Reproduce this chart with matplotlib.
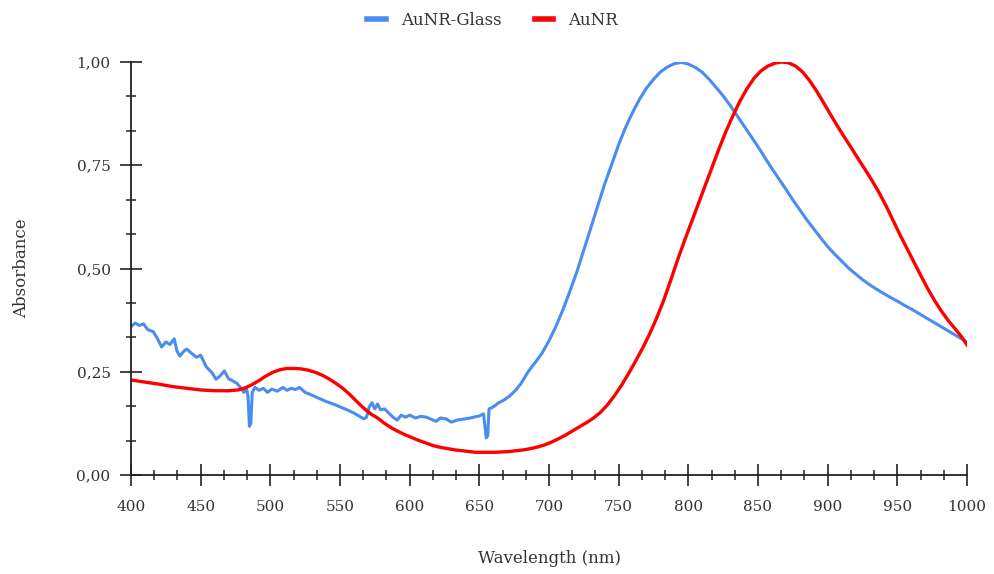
import matplotlib
matplotlib.use("Agg")
import matplotlib.pyplot as plt
from matplotlib.ticker import MultipleLocator, FuncFormatter

glass_wl = [400, 403, 406, 409, 412, 416, 419, 422, 425, 428, 431, 433, 435, 438, 440, 443, 447, 450,
            454, 458, 461, 464, 467, 470, 473, 476, 479, 481, 483, 484, 485, 486, 487, 489, 492, 495,
            498, 501, 505, 509, 512, 515, 518, 521, 525, 528, 532, 536, 540, 545, 550, 555, 560, 564,
            567, 569, 571, 573, 575, 577, 579, 582, 585, 588, 591, 594, 597, 600, 604, 608, 612, 616,
            619, 622, 626, 630, 634, 638, 642, 646, 650, 653, 655, 656, 657, 660, 664, 668, 672, 676,
            680, 685, 690, 695, 700, 705, 710, 715, 720, 725, 730, 735, 740, 745, 750, 755, 760, 765,
            770, 775, 780, 785, 790, 795, 800, 805, 810, 815, 820, 825, 830, 835, 840, 845, 850, 855,
            860, 865, 870, 875, 880, 885, 890, 895, 900, 905, 910, 915, 920, 925, 930, 935, 940, 945,
            950, 955, 960, 965, 970, 975, 980, 985, 990, 995, 1000]
glass_abs = [0.359, 0.368, 0.362, 0.366, 0.352, 0.347, 0.330, 0.310, 0.322, 0.316, 0.330, 0.300, 0.288,
             0.300, 0.305, 0.296, 0.285, 0.290, 0.262, 0.248, 0.232, 0.240, 0.252, 0.233, 0.228, 0.222,
             0.210, 0.200, 0.208, 0.190, 0.118, 0.125, 0.200, 0.212, 0.205, 0.210, 0.200, 0.208, 0.203,
             0.212, 0.205, 0.210, 0.207, 0.212, 0.200, 0.196, 0.190, 0.184, 0.178, 0.172, 0.165, 0.158,
             0.150, 0.142, 0.136, 0.140, 0.165, 0.175, 0.160, 0.172, 0.158, 0.160, 0.150, 0.140, 0.133,
             0.145, 0.140, 0.145, 0.138, 0.142, 0.140, 0.134, 0.130, 0.138, 0.136, 0.128, 0.133, 0.135,
             0.137, 0.140, 0.143, 0.148, 0.090, 0.095, 0.160, 0.165, 0.175, 0.182, 0.192, 0.205, 0.222,
             0.250, 0.272, 0.295, 0.325, 0.360, 0.400, 0.445, 0.492, 0.545, 0.598, 0.652, 0.705, 0.752,
             0.800, 0.842, 0.878, 0.910, 0.937, 0.958, 0.976, 0.988, 0.996, 0.999, 0.995, 0.987, 0.975,
             0.958, 0.938, 0.918, 0.895, 0.870, 0.845, 0.820, 0.795, 0.768, 0.742, 0.717, 0.692, 0.666,
             0.642, 0.618, 0.596, 0.574, 0.553, 0.535, 0.518, 0.501, 0.487, 0.473, 0.461, 0.450, 0.440,
             0.430, 0.421, 0.411, 0.402, 0.392, 0.382, 0.372, 0.362, 0.352, 0.342, 0.332, 0.322]

aunr_wl = [400, 410, 420, 430, 440, 450, 460, 470, 477, 482, 487, 492, 497, 502, 507, 512, 517, 522,
           527, 532, 537, 542, 547, 552, 557, 562, 567, 572, 577, 582, 587, 592, 597, 602, 607, 612,
           617, 622, 627, 632, 637, 642, 647, 652, 657, 662, 667, 672, 677, 682, 687, 692, 697, 702,
           707, 712, 717, 722, 727, 732, 737, 742, 747, 752, 757, 762, 767, 772, 777, 782, 787, 792,
           797, 802, 807, 812, 817, 822, 827, 832, 837, 842, 847, 852, 857, 862, 867, 872, 877, 882,
           887, 892, 897, 902, 907, 912, 917, 922, 927, 932, 937, 942, 947, 952, 957, 962, 967, 972,
           977, 982, 987, 992, 996, 1000]
aunr_abs = [0.230, 0.225, 0.220, 0.214, 0.210, 0.206, 0.204, 0.204, 0.206, 0.211, 0.219, 0.229, 0.240,
            0.249, 0.255, 0.258, 0.258, 0.257, 0.254, 0.249, 0.242, 0.233, 0.222, 0.210, 0.195, 0.178,
            0.162, 0.148, 0.138, 0.125, 0.114, 0.105, 0.097, 0.090, 0.083, 0.077, 0.071, 0.067, 0.064,
            0.061, 0.059, 0.057, 0.055, 0.055, 0.055, 0.055, 0.056, 0.057, 0.059, 0.061, 0.064, 0.068,
            0.073, 0.080, 0.088, 0.097, 0.107, 0.117, 0.127, 0.138, 0.152, 0.170, 0.192, 0.217, 0.245,
            0.275, 0.306, 0.340, 0.378, 0.420, 0.468, 0.518, 0.565, 0.610, 0.655, 0.700, 0.745, 0.790,
            0.832, 0.870, 0.905, 0.935, 0.960, 0.978, 0.990, 0.997, 1.000, 0.998, 0.990, 0.976, 0.955,
            0.930, 0.902, 0.873, 0.845, 0.818, 0.792, 0.765, 0.739, 0.712, 0.683, 0.651, 0.616, 0.581,
            0.548, 0.515, 0.482, 0.450, 0.421, 0.395, 0.372, 0.352, 0.335, 0.315]

series_names = ["AuNR-Glass", "AuNR"]
series_colors = ["#4a8cf0", "#ff0000"]

plt.rcParams['font.family'] = ['DejaVu Serif']

fig = plt.figure(figsize=(9.95, 5.74), dpi=100)
ax = fig.add_axes([131/995, 1 - 475/574, (967-131)/995, (475-62)/574])

ax.plot(glass_wl, glass_abs, color=series_colors[0], lw=2.2, label=series_names[0], solid_joinstyle='round')
ax.plot(aunr_wl, aunr_abs, color=series_colors[1], lw=2.4, label=series_names[1], solid_joinstyle='round')

ax.set_xlim(400, 1000)
ax.set_ylim(0, 1.0)
ax.xaxis.set_major_locator(MultipleLocator(50))
ax.xaxis.set_minor_locator(MultipleLocator(50/3))
ax.yaxis.set_major_locator(MultipleLocator(0.25))
ax.yaxis.set_minor_locator(MultipleLocator(0.25/3))
ax.yaxis.set_major_formatter(FuncFormatter(lambda v, p: f"{v:.2f}".replace('.', ',')))

for s in ['top', 'right']:
    ax.spines[s].set_visible(False)
for s in ['left', 'bottom']:
    ax.spines[s].set_linewidth(1.3)
    ax.spines[s].set_color('#222222')

ax.tick_params(which='major', direction='inout', length=15.5, width=1.2, color='#222222',
               labelsize=11, labelcolor='#333333')
ax.tick_params(which='minor', direction='inout', length=7.5, width=1.1, color='#222222')
ax.tick_params(axis='y', which='major', pad=7)
ax.tick_params(axis='x', which='major', pad=10)

ax.set_xlabel("Wavelength (nm)", fontsize=12, color='#333333', labelpad=26)
ax.set_ylabel("Absorbance", fontsize=12, color='#333333', labelpad=33)

fig.legend(loc='upper center', bbox_to_anchor=(0.495, 1.005), ncol=2, frameon=False,
           fontsize=12, handlelength=1.1, handletextpad=0.9, columnspacing=2.0,
           labelcolor='#333333')
for lh in fig.legends[0].get_lines():
    lh.set_linewidth(4)

fig.savefig("out.png", dpi=100, facecolor='white')
